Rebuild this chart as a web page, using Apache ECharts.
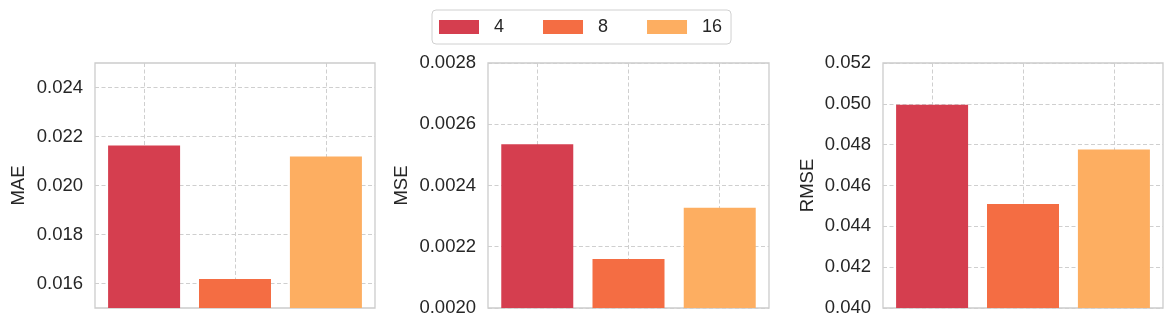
<!DOCTYPE html>
<html>
<head>
<meta charset="utf-8">
<script src="https://cdn.jsdelivr.net/npm/echarts@6/dist/echarts.min.js"></script>
<style>
  html, body { margin: 0; padding: 0; background: #fff; }
  #chart { width: 1173px; height: 330px; }
</style>
</head>
<body>
<div id="chart"></div>
<script>
// 数据
const groups = ['4', '8', '16'];
const metrics = ['MAE', 'MSE', 'RMSE'];
const maeValues = [0.02163, 0.01618, 0.02118];
const mseValues = [0.002535, 0.00216, 0.002327];
const rmseValues = [0.04995, 0.04510, 0.04776];

// 坐标轴范围和刻度
const maeRange = [0.015, 0.025];
const mseRange = [0.0020, 0.0028];
const rmseRange = [0.040, 0.052];
const maeTicks = [0.016, 0.018, 0.020, 0.022, 0.024];
const mseTicks = [0.0020, 0.0022, 0.0024, 0.0026, 0.0028];
const rmseTicks = [0.040, 0.042, 0.044, 0.046, 0.048, 0.050, 0.052];
const tickDigits = [3, 4, 3];

const colors = ['#d53e4f', '#f46d43', '#fdae61'];
const fontFamily = '"Liberation Sans", Arial, sans-serif';
const textColor = '#262626';

const values = [maeValues, mseValues, rmseValues];
const ranges = [maeRange, mseRange, rmseRange];
const ticks = [maeTicks, mseTicks, rmseTicks];

// 面板位置
const grids = [
  { left: 95, right: 798, top: 63, bottom: 22 },
  { left: 488, right: 404, top: 63, bottom: 22 },
  { left: 883, right: 10, top: 63, bottom: 22 },
];
const nameGaps = [67, 77, 66];

const chartNode = echarts.init(document.getElementById('chart'));

const option = {
  animation: false,
  textStyle: { fontFamily: fontFamily },
  legend: {
    top: 10,
    left: 432,
    data: groups,
    icon: 'rect',
    itemWidth: 40,
    itemHeight: 14,
    itemGap: 39,
    padding: [8, 9, 8, 7],
    borderColor: '#d0d0d0',
    borderWidth: 1,
    borderRadius: 4,
    textStyle: {
      fontSize: 18,
      color: textColor,
      fontFamily: fontFamily,
      padding: [0, 0, 0, 10],
    },
  },
  grid: grids.map((g) => ({
    ...g,
    show: true,
    borderColor: '#cccccc',
    borderWidth: 1.3,
    backgroundColor: '#fff',
  })),
  xAxis: grids.map((g, i) => ({
    type: 'value',
    gridIndex: i,
    min: -0.54,
    max: 2.54,
    axisLine: { show: false },
    axisLabel: { show: false },
    axisTick: { show: false, customValues: [0, 1, 2] },
    splitLine: {
      show: true,
      lineStyle: { color: '#cfcfcf', type: [4, 2.5], width: 1 },
    },
  })),
  yAxis: grids.map((g, i) => ({
    type: 'value',
    gridIndex: i,
    min: ranges[i][0],
    max: ranges[i][1],
    name: metrics[i],
    nameLocation: 'middle',
    nameGap: nameGaps[i],
    nameTextStyle: { fontSize: 18.5, color: textColor, fontFamily: fontFamily },
    axisLine: { show: false },
    axisTick: { show: false, customValues: ticks[i] },
    axisLabel: {
      customValues: ticks[i],
      margin: 12,
      fontSize: 18.5,
      color: textColor,
      fontFamily: fontFamily,
      formatter: (v) => v.toFixed(tickDigits[i]),
    },
    splitLine: {
      show: true,
      lineStyle: { color: '#cfcfcf', type: [4, 2.5], width: 1 },
    },
  })),
  series: [],
};

values.forEach((vals, p) => {
  groups.forEach((name, g) => {
    option.series.push({
      type: 'bar',
      name: name,
      xAxisIndex: p,
      yAxisIndex: p,
      barWidth: 72,
      barGap: '-100%',
      itemStyle: { color: colors[g] },
      data: [[g, vals[g]]],
    });
  });
});

chartNode.setOption(option, true);
</script>
</body>
</html>
